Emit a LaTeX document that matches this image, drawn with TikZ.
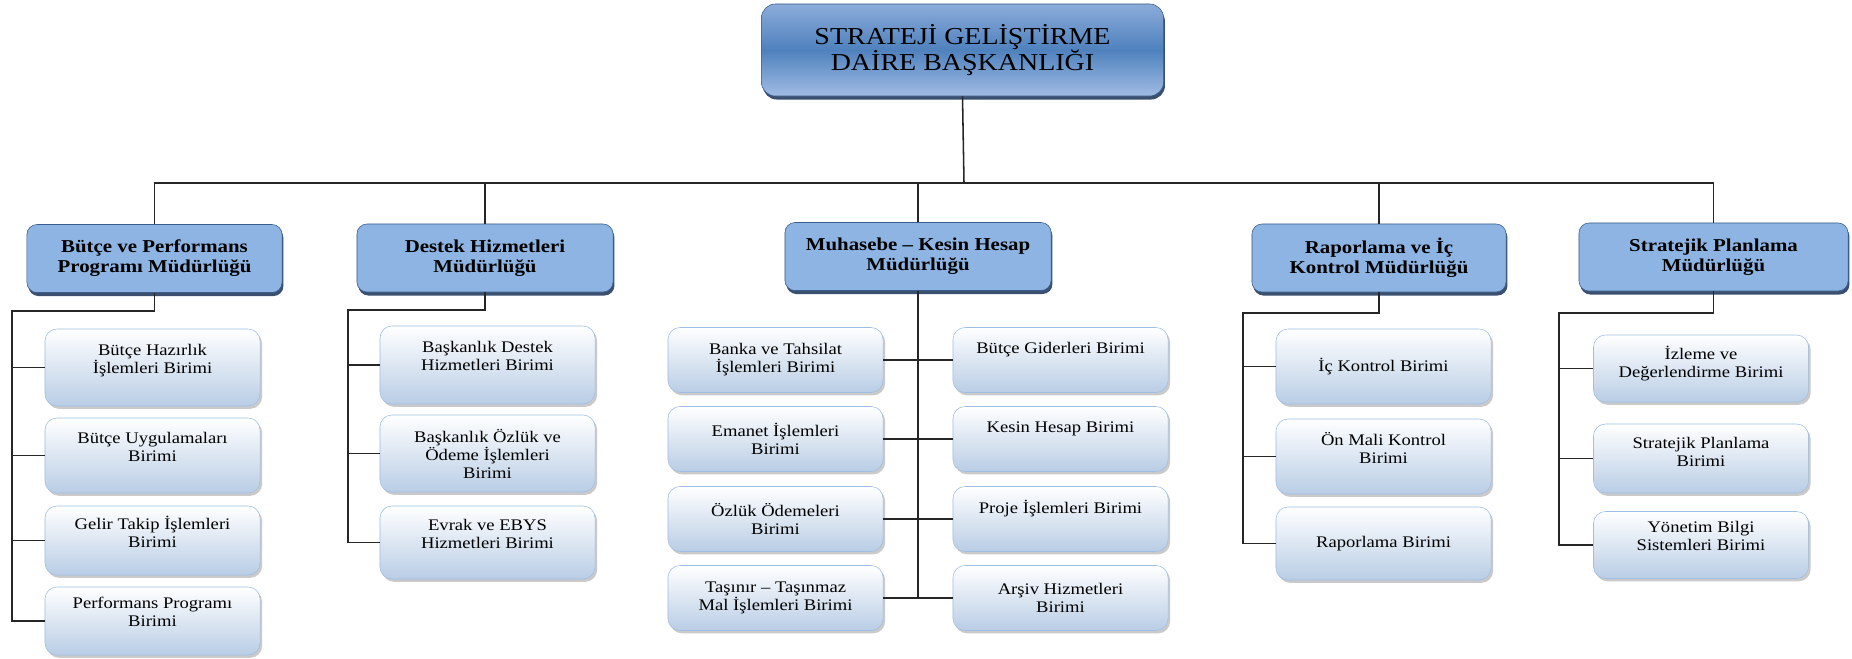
\documentclass[tikz,border=0pt]{standalone}
\usepackage{fontspec}
\setmainfont{Liberation Serif}[FakeStretch=1.15]
\usetikzlibrary{shadows}
\definecolor{headtop}{RGB}{140,172,218}
\definecolor{headmid}{RGB}{79,129,189}
\definecolor{headbot}{RGB}{160,188,228}
\definecolor{mgrfill}{RGB}{141,180,226}
\definecolor{mgrline}{RGB}{56,93,138}
\definecolor{mgrshade}{RGB}{38,60,95}
\definecolor{unitbot}{RGB}{185,205,229}
\definecolor{unitline}{RGB}{160,190,228}
\tikzset{
	head/.style={draw=mgrline,rounded corners=0.35cm,top color=headtop,bottom color=headbot,middle color=headmid,
		drop shadow={shadow xshift=1pt,shadow yshift=-2.5pt,fill=mgrshade,opacity=0.9},
		minimum width=10.05cm,minimum height=2.3cm,align=center,font=\fontsize{17.3}{18.5}\selectfont},
	mgr/.style={draw=mgrline,rounded corners=0.25cm,fill=mgrfill,
		drop shadow={shadow xshift=1pt,shadow yshift=-2.5pt,fill=mgrshade,opacity=0.9},
		minimum height=1.7cm,align=center,font=\bfseries\fontsize{12.9}{14.2}\selectfont},
	unit/.style={draw=unitline,rounded corners=0.3cm,top color=white,bottom color=unitbot,
		drop shadow={shadow xshift=1.5pt,shadow yshift=-2pt,fill=black!35,opacity=0.6},
		minimum width=5.375cm,minimum height=1.875cm,align=center,font=\fontsize{11.5}{12.8}\selectfont},
	conn/.style={line width=1.1pt,draw=black!85}
}
\begin{document}
\begin{tikzpicture}[x=0.025cm,y=-0.025cm]
	\useasboundingbox (0,0) rectangle (1852,658);
	\node[head] (top) at (962.5,50) {STRATEJİ GELİŞTİRME\\DAİRE BAŞKANLIĞI};
	% mudurlukler
	\node[mgr,minimum width=6.375cm] (bm) at (154.5,258.5) {Bütçe ve Performans\\Programı Müdürlüğü};
	\node[mgr,minimum width=6.4cm] (dm) at (485,258) {Destek Hizmetleri\\Müdürlüğü};
	\node[mgr,minimum width=6.65cm] (mm) at (918,256.5) {Muhasebe – Kesin Hesap\\Müdürlüğü};
	\node[mgr,minimum width=6.35cm] (rm) at (1379,258) {Raporlama ve İç\\Kontrol Müdürlüğü};
	\node[mgr,minimum width=6.725cm] (sm) at (1713.5,257) {Stratejik Planlama\\Müdürlüğü};
	\coordinate (bus) at (964,183);
	\draw[conn] (top.south) -- (bus);
	\draw[conn] (bm.north) |- (sm.north |- bus) -- (sm.north);
	\foreach \m in {dm,mm,rm}
		\draw[conn] (\m.north) -- (\m.north |- bus);
	% butce ve performans
	\node[unit,minimum height=1.925cm] (b1) at (152.5,367.5) {Bütçe Hazırlık\\İşlemleri Birimi\\ \mbox{}};
	\node[unit] (b2) at (152.5,455.5) {Bütçe Uygulamaları\\Birimi\\ \mbox{}};
	\node[unit,minimum height=1.725cm] (b3) at (152.5,540.5) {Gelir Takip İşlemleri\\Birimi\\ \mbox{}};
	\node[unit,minimum height=1.7cm] (b4) at (152.5,621) {Performans Programı\\Birimi\\ \mbox{}};
	\coordinate (bl) at (12,311);
	\draw[conn] (bm.south) |- (bl) |- (b4.west);
	\foreach \n in {b1,b2,b3}
		\draw[conn] (\n.west) -- (\n.west -| bl);
	% destek hizmetleri
	\node[unit,minimum height=1.95cm] (d1) at (487.5,365) {Başkanlık Destek\\Hizmetleri Birimi\\ \mbox{}};
	\node[unit,minimum height=1.925cm] (d2) at (487.5,453.5) {Başkanlık Özlük ve\\Ödeme İşlemleri\\Birimi};
	\node[unit,minimum height=1.825cm] (d3) at (487.5,542.5) {Evrak ve EBYS\\Hizmetleri Birimi\\ \mbox{}};
	\coordinate (dl) at (348,310);
	\draw[conn] (dm.south) |- (dl) |- (d3.west);
	\foreach \n in {d1,d2}
		\draw[conn] (\n.west) -- (\n.west -| dl);
	% muhasebe - kesin hesap
	\tikzset{unit/.append style={minimum height=1.625cm}}
	\node[unit] (ml1) at (775.5,360) {Banka ve Tahsilat\\İşlemleri Birimi};
	\node[unit] (ml2) at (775.5,439) {Emanet İşlemleri\\Birimi};
	\node[unit] (ml3) at (775.5,519) {Özlük Ödemeleri\\Birimi};
	\node[unit] (ml4) at (775.5,598) {Taşınır – Taşınmaz\\Mal İşlemleri Birimi};
	\node[unit] (mr1) at (1060.5,360) {Bütçe Giderleri Birimi\\[4pt]\mbox{}};
	\node[unit] (mr2) at (1060.5,439) {Kesin Hesap Birimi\\[4pt]\mbox{}};
	\node[unit] (mr3) at (1060.5,519) {Proje İşlemleri Birimi\\[4pt]\mbox{}};
	\node[unit] (mr4) at (1060.5,598) {Arşiv Hizmetleri\\Birimi};
	\draw[conn] (mm.south) -- (mm.south |- ml4.east);
	\foreach \i in {1,...,4}
		\draw[conn] (ml\i.east) -- (mr\i.west);
	% raporlama ve ic kontrol
	\tikzset{unit/.append style={minimum height=1.875cm}}
	\node[unit] (r1) at (1383.5,366.5) {İç Kontrol Birimi};
	\node[unit] (r2) at (1383.5,456.5) {Ön Mali Kontrol\\Birimi\\ \mbox{}};
	\node[unit,minimum height=1.825cm] (r3) at (1383.5,543.5) {Raporlama Birimi};
	\coordinate (rl) at (1243,313);
	\draw[conn] (rm.south) |- (rl) |- (r3.west);
	\foreach \n in {r1,r2}
		\draw[conn] (\n.west) -- (\n.west -| rl);
	% stratejik planlama
	\tikzset{unit/.append style={minimum height=1.675cm}}
	\node[unit] (s1) at (1701,368.5) {İzleme ve\\Değerlendirme Birimi\\[-4pt]\mbox{}};
	\node[unit,minimum height=1.725cm] (s2) at (1701,458.5) {Stratejik Planlama\\Birimi\\[-4pt]\mbox{}};
	\node[unit] (s3) at (1701,545) {Yönetim Bilgi\\Sistemleri Birimi\\ \mbox{}};
	\coordinate (sl) at (1559,313);
	\draw[conn] (sm.south) |- (sl) |- (s3.west);
	\foreach \n in {s1,s2}
		\draw[conn] (\n.west) -- (\n.west -| sl);
\end{tikzpicture}
\end{document}
